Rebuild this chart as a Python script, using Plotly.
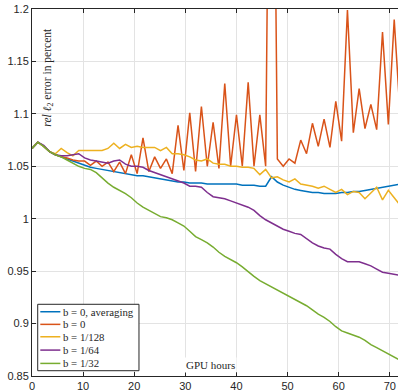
import plotly.graph_objects as go

hours = [0, 1.14, 2.29, 3.43, 4.57, 5.71, 6.86, 8.0, 9.14, 10.29, 11.43, 12.57, 13.71,
         14.86, 16.0, 17.14, 18.29, 19.43, 20.57, 21.71, 22.86, 24.0, 25.14, 26.29,
         27.43, 28.57, 29.71, 30.86, 32.0, 33.14, 34.29, 35.43, 36.57, 37.71, 38.86,
         40.0, 41.14, 42.29, 43.43, 44.57, 45.71, 46.86, 48.0, 49.14, 50.29, 51.43,
         52.57, 53.71, 54.86, 56.0, 57.14, 58.29, 59.43, 60.57, 61.71, 62.86, 64.0,
         65.14, 66.29, 67.43, 68.57, 69.71, 70.86, 72.0]

b0_avg = [1.067, 1.073, 1.069, 1.064, 1.061, 1.059, 1.057, 1.055, 1.053, 1.051, 1.049,
          1.048, 1.047, 1.046, 1.045, 1.044, 1.043, 1.042, 1.041, 1.041, 1.040, 1.039,
          1.038, 1.037, 1.036, 1.035, 1.035, 1.034, 1.034, 1.034, 1.033, 1.033, 1.033,
          1.033, 1.033, 1.033, 1.032, 1.032, 1.032, 1.031, 1.031, 1.040, 1.035, 1.032,
          1.030, 1.028, 1.027, 1.026, 1.025, 1.025, 1.024, 1.024, 1.024, 1.025, 1.025,
          1.026, 1.026, 1.027, 1.028, 1.029, 1.030, 1.031, 1.032, 1.033]

b0 = [1.067, 1.073, 1.069, 1.064, 1.061, 1.059, 1.058, 1.056, 1.055, 1.055, 1.051,
      1.055, 1.050, 1.054, 1.045, 1.054, 1.043, 1.061, 1.043, 1.077, 1.045, 1.059,
      1.048, 1.057, 1.043, 1.089, 1.046, 1.101, 1.045, 1.107, 1.050, 1.092, 1.048,
      1.129, 1.050, 1.099, 1.050, 1.130, 1.050, 1.099, 1.050, 1.650, 1.057, 1.050,
      1.057, 1.053, 1.075, 1.062, 1.091, 1.069, 1.095, 1.068, 1.112, 1.074, 1.199,
      1.082, 1.124, 1.086, 1.109, 1.085, 1.178, 1.090, 1.190, 1.100]

b_128 = [1.067, 1.073, 1.069, 1.064, 1.062, 1.067, 1.063, 1.060, 1.065, 1.065, 1.065,
         1.065, 1.065, 1.067, 1.072, 1.067, 1.071, 1.068, 1.069, 1.068, 1.068, 1.068,
         1.065, 1.068, 1.062, 1.062, 1.061, 1.059, 1.056, 1.055, 1.057, 1.053, 1.052,
         1.052, 1.050, 1.050, 1.049, 1.049, 1.048, 1.042, 1.047, 1.039, 1.040, 1.037,
         1.035, 1.038, 1.033, 1.032, 1.031, 1.029, 1.031, 1.028, 1.025, 1.028, 1.023,
         1.026, 1.025, 1.019, 1.025, 1.030, 1.018, 1.027, 1.020, 1.013]

b_64 = [1.067, 1.073, 1.070, 1.064, 1.061, 1.060, 1.060, 1.061, 1.062, 1.058, 1.056,
        1.055, 1.054, 1.053, 1.055, 1.056, 1.052, 1.050, 1.050, 1.049, 1.046, 1.044,
        1.042, 1.040, 1.038, 1.036, 1.034, 1.031, 1.031, 1.030, 1.025, 1.021, 1.020,
        1.019, 1.017, 1.015, 1.013, 1.011, 1.008, 1.003, 0.999, 0.996, 0.993, 0.990,
        0.988, 0.986, 0.985, 0.981, 0.977, 0.974, 0.972, 0.971, 0.966, 0.962, 0.959,
        0.959, 0.959, 0.957, 0.955, 0.952, 0.949, 0.948, 0.947, 0.946]

b_32 = [1.067, 1.073, 1.069, 1.064, 1.061, 1.059, 1.056, 1.053, 1.050, 1.048, 1.047,
        1.044, 1.039, 1.034, 1.030, 1.027, 1.024, 1.020, 1.015, 1.011, 1.008, 1.005,
        1.002, 1.001, 0.999, 0.996, 0.993, 0.988, 0.983, 0.980, 0.977, 0.973, 0.968,
        0.964, 0.961, 0.958, 0.954, 0.949, 0.945, 0.941, 0.938, 0.935, 0.932, 0.929,
        0.926, 0.923, 0.920, 0.917, 0.913, 0.909, 0.906, 0.902, 0.897, 0.893, 0.891,
        0.889, 0.887, 0.884, 0.880, 0.877, 0.874, 0.871, 0.868, 0.865]

series_names = ["b = 0, averaging", "b = 0", "b = 1/128", "b = 1/64", "b = 1/32"]
series_colors = ["#0072BD", "#D95319", "#EDB120", "#7E2F8E", "#77AC30"]
series_values = [b0_avg, b0, b_128, b_64, b_32]

x_tick_vals = [0, 10, 20, 30, 40, 50, 60, 70]
x_tick_labels = ["0", "10", "20", "30", "40", "50", "60", "70"]
y_tick_vals = [0.85, 0.9, 0.95, 1.0, 1.05, 1.1, 1.15, 1.2]
y_tick_labels = ["0.85", "0.9", "0.95", "1", "1.05", "1.1", "1.15", "1.2"]

SERIF = "Liberation Serif, Times New Roman, serif"
SANS = "Liberation Sans, Arial, sans-serif"

fig = go.Figure()
for name, color, vals in zip(series_names, series_colors, series_values):
    fig.add_trace(go.Scatter(x=hours, y=vals, mode="lines", name=name,
                             line=dict(color=color, width=1.5), showlegend=False,
                             hoverinfo="skip"))

axis_common = dict(showline=True, linecolor="#262626", linewidth=1,
                   ticks="inside", ticklen=4, tickcolor="#262626",
                   showgrid=True, gridcolor="#e3e3e3", gridwidth=1,
                   zeroline=False, mirror="ticks", automargin=False,
                   tickfont=dict(family=SANS, size=11, color="#262626"))

fig.update_xaxes(range=[0, 71.6], tickvals=x_tick_vals, ticktext=x_tick_labels, **axis_common)
fig.update_yaxes(range=[0.85, 1.2], tickvals=y_tick_vals, ticktext=y_tick_labels, **axis_common)
fig.update_yaxes(mirror=False)

fig.add_annotation(text="<i>rel</i> <i>ℓ</i><sub>2</sub> error in percent", textangle=-90,
                   xref="paper", yref="paper", x=0.043, y=0.815, showarrow=False,
                   xanchor="center", yanchor="middle",
                   font=dict(family=SERIF, size=11.5, color="#262626"))
fig.add_annotation(text="GPU hours", xref="paper", yref="paper", x=0.489, y=0.03,
                   xanchor="center", yanchor="middle",
                   showarrow=False, bgcolor="white",
                   font=dict(family=SERIF, size=11, color="#262626"))

# manual compact legend (box, line samples, labels)
leg_x0, leg_x1, leg_y0, leg_y1 = 0.0156, 0.2923, 0.0144, 0.1954
fig.add_shape(type="rect", xref="paper", yref="paper", x0=leg_x0, x1=leg_x1,
              y0=leg_y0, y1=leg_y1, line=dict(color="#262626", width=1),
              fillcolor="white", layer="above")
row_y = [0.1751, 0.1407, 0.1069, 0.0706, 0.0343]
for name, color, yy in zip(series_names, series_colors, row_y):
    fig.add_shape(type="line", xref="paper", yref="paper", x0=0.0227, x1=0.0775,
                  y0=yy, y1=yy, line=dict(color=color, width=1.5), layer="above")
    fig.add_annotation(text=name, xref="paper", yref="paper", x=0.0790, y=yy,
                       xanchor="left", yanchor="middle", showarrow=False,
                       font=dict(family=SERIF, size=10.8, color="#262626"))

fig.update_layout(
    width=398, height=391, autosize=False,
    margin=dict(l=32, r=0, t=9, b=15),
    paper_bgcolor="white", plot_bgcolor="white",
    showlegend=False, hovermode=False,
)

fig.write_html("out.html", config={"displayModeBar": False, "staticPlot": True},
               post_script="document.body.style.margin='0';document.body.style.overflow='hidden';")
